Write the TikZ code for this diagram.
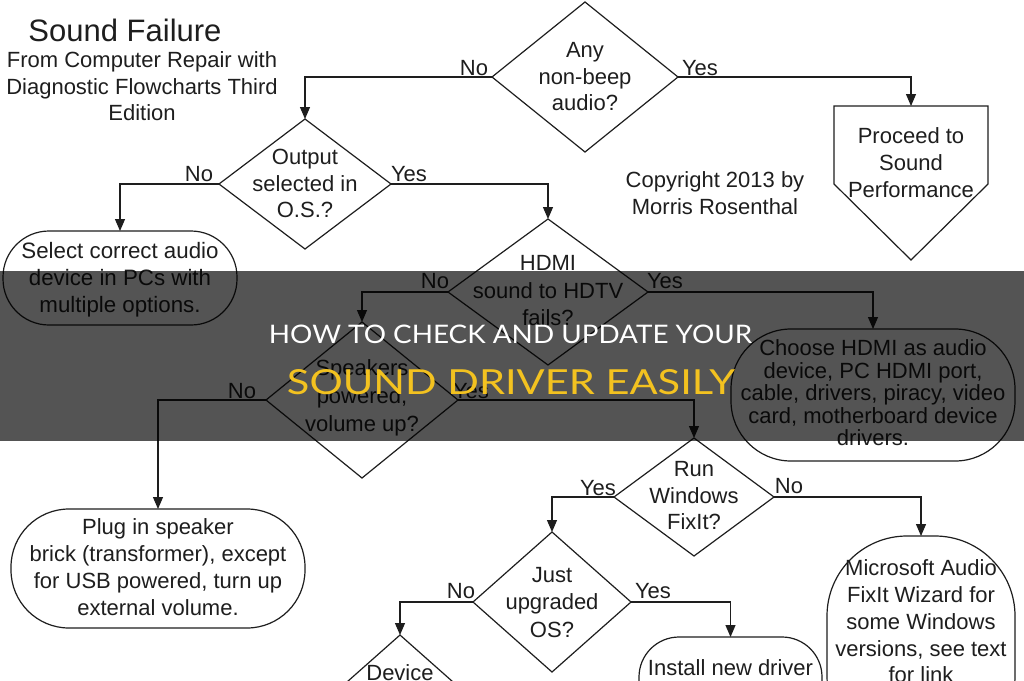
\documentclass[tikz,border=0pt]{standalone}
\usepackage{fontspec}
\setmainfont{Liberation Sans}
\newfontfamily\bandfont{Lato}
\usepackage{graphicx}
\usetikzlibrary{shapes.geometric,arrows.meta}
\definecolor{ln}{HTML}{1E1E1E}
\definecolor{tx}{HTML}{1E1E1E}
\definecolor{yel}{RGB}{243,194,32}
\begin{document}
\begin{tikzpicture}[x=1pt,y=-1pt,
  dia/.style={draw=ln, line width=1.2pt, shape=diamond, inner sep=0pt, outer sep=0pt},
  term/.style={draw=ln, line width=1.2pt, rectangle, inner sep=0pt, outer sep=0pt},
  txt/.style={text=tx, font=\fontsize{22}{26.5}\selectfont, align=center, inner sep=0pt},
  lbl/.style={text=tx, font=\fontsize{22}{26.5}\selectfont, inner sep=0pt, anchor=base},
  conn/.style={draw=ln, line width=1.2pt, -{Triangle[length=12pt,width=10pt]}},
  shp/.style={draw=ln, line width=1.2pt, line join=miter}
]
\useasboundingbox (0,0) rectangle (1024,680);
\clip (0,0) rectangle (1024,680);
\fill[white] (0,0) rectangle (1024,680);

% title
\node[text=tx, font=\fontsize{31}{31}\selectfont, inner sep=0pt] (title) at (125,30) {Sound Failure};
\node[txt] (sub) at (142,86.5) {From Computer Repair with\\Diagnostic Flowcharts Third\\Edition};
\node[txt, font=\fontsize{22}{27}\selectfont] (copy) at (715,193.5) {Copyright 2013 by\\Morris Rosenthal};

% decisions
\node[dia, minimum width=186, minimum height=150] (d1) at (585,77) {};
\node[txt] (d1t) at (585,77) {Any\\non-beep\\audio?};
\node[dia, minimum width=172, minimum height=130] (d2) at (305,184) {};
\node[txt] (d2t) at (305,183.5) {Output\\selected in\\O.S.?};
\node[dia, minimum width=200, minimum height=146] (d3) at (548,292) {};
\node[txt, font=\fontsize{22}{27.5}\selectfont] (d3t) at (548,291) {HDMI\\sound to HDTV\\fails?};
\node[dia, minimum width=192, minimum height=156] (d4) at (362,400) {};
\node[txt, font=\fontsize{22}{28}\selectfont] (d4t) at (362,398) {Speakers\\powered,\\volume up?};
\node[dia, minimum width=160, minimum height=118] (d5) at (694,497) {};
\node[txt] (d5t) at (694,496) {Run\\Windows\\FixIt?};
\node[dia, minimum width=158, minimum height=140] (d6) at (552,602) {};
\node[txt, font=\fontsize{22}{27.5}\selectfont] (d6t) at (552,602.5) {Just\\upgraded\\OS?};
\node[dia, minimum width=158, minimum height=140] (d7) at (400,705) {};
\node[lbl] (d7t) at (400,680) {Device};

% pentagon
\node[inner sep=0pt, outer sep=0pt, minimum width=154, minimum height=78] (pent) at (911,145) {};
\coordinate (ptip) at (911,260);
\draw[shp] (pent.south west) -- (pent.north west) -- (pent.north east) -- (pent.south east) -- (ptip) -- cycle;
\node[txt, font=\fontsize{22}{27}\selectfont] (pentt) at (911,163) {Proceed to\\Sound\\Performance};

% terminals
\node[term, rounded corners=46, minimum width=234, minimum height=94] (t1) at (120,278) {};
\node[txt, font=\fontsize{22.3}{27}\selectfont] (t1t) at (120,279.5) {Select correct audio\\device in PCs with\\multiple options.};
\node[term, rounded corners=60, minimum width=284, minimum height=132] (t2) at (873,395) {};
\node[txt, font=\fontsize{22}{22.5}\selectfont] (t2t) at (873,393) {Choose HDMI as audio\\device, PC HDMI port,\\cable, drivers, piracy, video\\card, motherboard device\\drivers.};
\node[term, rounded corners=58, minimum width=294, minimum height=119] (t3) at (158,568.5) {};
\node[txt, font=\fontsize{22}{27}\selectfont] (t3t) at (158,567.5) {Plug in speaker\\brick (transformer), except\\for USB powered, turn up\\external volume.};
\node[term, rounded corners=80, minimum width=188, minimum height=220] (t4) at (921,646) {};
\node[txt, font=\fontsize{22}{26.75}\selectfont] (t4t) at (921,621.5) {Microsoft Audio\\FixIt Wizard for\\some Windows\\versions, see text\\for link};
\node[term, rounded corners=40, minimum width=183, minimum height=120] (t5) at (730.5,697) {};
\node[lbl] (t5t) at (730.5,675) {Install new driver};

% connectors
\draw[conn] (d1.west) -| (d2.north);
\draw[conn] (d1.east) -| (pent.north);
\draw[conn] (d2.west) -| (t1.north);
\draw[conn] (d2.east) -| (d3.north);
\draw[conn] (d3.west) -| (d4.north);
\draw[conn] (d3.east) -| (t2.north);
\draw[conn] (d4.west) -| (t3.north);
\draw[conn] (d4.east) -| (d5.north);
\draw[conn] (d5.west) -| (d6.north);
\draw[conn] (d5.east) -| (t4.north);
\draw[conn] (d6.west) -| (d7.north);
\draw[conn] (d6.east) -| (t5.north);

% branch labels
\node[lbl] (l1n) at (474,75) {No};
\node[lbl] (l1y) at (700,75) {Yes};
\node[lbl] (l2n) at (199,181) {No};
\node[lbl] (l2y) at (409,181) {Yes};
\node[lbl] (l3n) at (435,288) {No};
\node[lbl] (l3y) at (665,288) {Yes};
\node[lbl] (l4n) at (242,398) {No};
\node[lbl] (l4y) at (471,398) {Yes};
\node[lbl] (l5y) at (598,495) {Yes};
\node[lbl] (l5n) at (789,493) {No};
\node[lbl] (l6n) at (461,598) {No};
\node[lbl] (l6y) at (653,598) {Yes};

% overlay band
\fill[black, opacity=0.67] (0,271) rectangle (1024,441);
\node[inner sep=0pt, text=white] (h1) at (510.5,334) {\resizebox{483pt}{18.5pt}{\bandfont HOW TO CHECK AND UPDATE YOUR}};
\node[inner sep=0pt, text=yel] (h2) at (511,382.5) {\resizebox{448pt}{25pt}{\bandfont SOUND DRIVER EASILY}};
\end{tikzpicture}
\end{document}
